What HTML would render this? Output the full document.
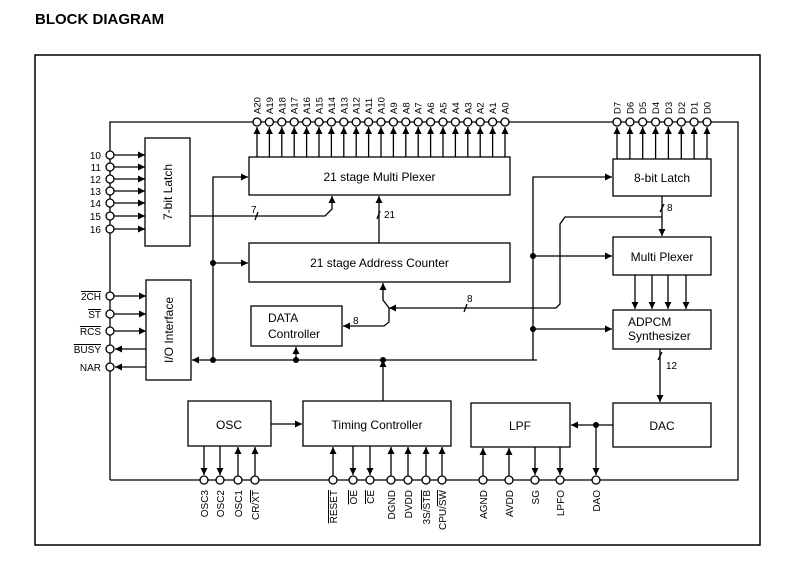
<!DOCTYPE html>
<html><head><meta charset="utf-8"><style>
html,body{margin:0;padding:0;background:#fff;}
svg{display:block;font-family:"Liberation Sans",Arial,sans-serif;}
.ov{text-decoration:overline;}
</style></head><body>
<svg width="785" height="575" viewBox="0 0 785 575" xmlns="http://www.w3.org/2000/svg">
<defs>
<marker id="a" markerWidth="8" markerHeight="8" refX="7" refY="4" orient="auto" markerUnits="userSpaceOnUse"><path d="M0,0.5 L7,4 L0,7.5 Z" fill="#000"/></marker>
</defs>
<text x="35" y="24" font-size="15" font-weight="bold">BLOCK DIAGRAM</text>
<rect x="35" y="55" width="725" height="490" fill="none" stroke="#000" stroke-width="1.5"/>
<g stroke="#000" stroke-width="1.3" fill="none">
<!-- wires -->
<polyline points="110,480 110,122 738,122 738,480 110,480"/>
<!-- address arrows -->
<g marker-end="url(#a)">
<line x1="257" y1="157" x2="257" y2="127"/><line x1="269.4" y1="157" x2="269.4" y2="127"/><line x1="281.8" y1="157" x2="281.8" y2="127"/><line x1="294.2" y1="157" x2="294.2" y2="127"/><line x1="306.6" y1="157" x2="306.6" y2="127"/><line x1="319" y1="157" x2="319" y2="127"/><line x1="331.4" y1="157" x2="331.4" y2="127"/><line x1="343.8" y1="157" x2="343.8" y2="127"/><line x1="356.2" y1="157" x2="356.2" y2="127"/><line x1="368.6" y1="157" x2="368.6" y2="127"/><line x1="381" y1="157" x2="381" y2="127"/><line x1="393.4" y1="157" x2="393.4" y2="127"/><line x1="405.8" y1="157" x2="405.8" y2="127"/><line x1="418.2" y1="157" x2="418.2" y2="127"/><line x1="430.6" y1="157" x2="430.6" y2="127"/><line x1="443" y1="157" x2="443" y2="127"/><line x1="455.4" y1="157" x2="455.4" y2="127"/><line x1="467.8" y1="157" x2="467.8" y2="127"/><line x1="480.2" y1="157" x2="480.2" y2="127"/><line x1="492.6" y1="157" x2="492.6" y2="127"/><line x1="505" y1="157" x2="505" y2="127"/>
<line x1="617" y1="159" x2="617" y2="127"/><line x1="629.9" y1="159" x2="629.9" y2="127"/><line x1="642.7" y1="159" x2="642.7" y2="127"/><line x1="655.6" y1="159" x2="655.6" y2="127"/><line x1="668.4" y1="159" x2="668.4" y2="127"/><line x1="681.3" y1="159" x2="681.3" y2="127"/><line x1="694.1" y1="159" x2="694.1" y2="127"/><line x1="707" y1="159" x2="707" y2="127"/>
<!-- 7 inputs -->
<line x1="114" y1="155" x2="145" y2="155"/><line x1="114" y1="167" x2="145" y2="167"/><line x1="114" y1="179" x2="145" y2="179"/><line x1="114" y1="191" x2="145" y2="191"/><line x1="114" y1="203" x2="145" y2="203"/><line x1="114" y1="216" x2="145" y2="216"/><line x1="114" y1="229" x2="145" y2="229"/>
<line x1="114" y1="296" x2="146" y2="296"/><line x1="114" y1="314" x2="146" y2="314"/><line x1="114" y1="331" x2="146" y2="331"/>
<line x1="146" y1="349" x2="115" y2="349"/><line x1="146" y1="367" x2="115" y2="367"/>
<polyline points="190,216 325,216 332,209 332,196"/>
<line x1="379" y1="243" x2="379" y2="196"/>
<polyline points="213,360 213,177 248,177"/>
<line x1="213" y1="263" x2="248" y2="263"/>
<polyline points="537,360 192,360"/>
<line x1="296" y1="360" x2="296" y2="347"/>
<line x1="383" y1="401" x2="383" y2="360"/>
<polyline points="533,360 533,177 612,177"/>
<line x1="533" y1="256" x2="612" y2="256"/>
<line x1="533" y1="329" x2="612" y2="329"/>
<line x1="662" y1="196" x2="662" y2="236"/>
<polyline points="662,217 565,217 560,224 560,304 556,308 389,308"/>
<polyline points="389,308 383,300 383,283"/>
<polyline points="389,308 389,322 384,326 343,326"/>
<line x1="635" y1="275" x2="635" y2="309"/><line x1="652" y1="275" x2="652" y2="309"/><line x1="668" y1="275" x2="668" y2="309"/><line x1="686" y1="275" x2="686" y2="309"/>
<line x1="660" y1="349" x2="660" y2="402"/>
<line x1="613" y1="425" x2="571" y2="425"/>
<line x1="271" y1="424" x2="302" y2="424"/>
<!-- bottom pins -->
<line x1="204" y1="446" x2="204" y2="475"/><line x1="220" y1="446" x2="220" y2="475"/>
<line x1="238" y1="476" x2="238" y2="447"/><line x1="255" y1="476" x2="255" y2="447"/>
<line x1="333" y1="476" x2="333" y2="447"/>
<line x1="353" y1="446" x2="353" y2="475"/><line x1="370" y1="446" x2="370" y2="475"/>
<line x1="391" y1="476" x2="391" y2="447"/><line x1="408" y1="476" x2="408" y2="447"/><line x1="426" y1="476" x2="426" y2="447"/><line x1="442" y1="476" x2="442" y2="447"/>
<line x1="483" y1="476" x2="483" y2="448"/><line x1="509" y1="476" x2="509" y2="448"/>
<line x1="535" y1="447" x2="535" y2="475"/><line x1="560" y1="447" x2="560" y2="475"/>
<line x1="596" y1="425" x2="596" y2="475"/>
</g>
<!-- tick marks -->
<line x1="255" y1="220" x2="258" y2="212"/><line x1="377" y1="219" x2="380" y2="211"/><line x1="464" y1="312" x2="467" y2="304"/><line x1="660" y1="212" x2="664" y2="204"/><line x1="658" y1="360" x2="662" y2="352"/>
<!-- boxes -->
<g fill="#fff">
<rect x="145" y="138" width="45" height="108"/>
<rect x="146" y="280" width="45" height="100"/>
<rect x="249" y="157" width="261" height="38"/>
<rect x="249" y="243" width="261" height="39"/>
<rect x="251" y="306" width="91" height="40"/>
<rect x="613" y="159" width="98" height="37"/>
<rect x="613" y="237" width="98" height="38"/>
<rect x="613" y="310" width="98" height="39"/>
<rect x="188" y="401" width="83" height="45"/>
<rect x="303" y="401" width="148" height="45"/>
<rect x="471" y="403" width="99" height="44"/>
<rect x="613" y="403" width="98" height="44"/>
</g>
</g>
<!-- dots -->
<g fill="#000">
<circle cx="213" cy="263" r="3"/><circle cx="213" cy="360" r="3"/><circle cx="296" cy="360" r="3"/><circle cx="383" cy="360" r="3"/>
<circle cx="533" cy="256" r="3"/><circle cx="533" cy="329" r="3"/><circle cx="596" cy="425" r="3"/>
</g>
<!-- pin circles -->
<g fill="#fff" stroke="#000" stroke-width="1.3">
<circle cx="257" cy="122" r="4"/><circle cx="269.4" cy="122" r="4"/><circle cx="281.8" cy="122" r="4"/><circle cx="294.2" cy="122" r="4"/><circle cx="306.6" cy="122" r="4"/><circle cx="319" cy="122" r="4"/><circle cx="331.4" cy="122" r="4"/><circle cx="343.8" cy="122" r="4"/><circle cx="356.2" cy="122" r="4"/><circle cx="368.6" cy="122" r="4"/><circle cx="381" cy="122" r="4"/><circle cx="393.4" cy="122" r="4"/><circle cx="405.8" cy="122" r="4"/><circle cx="418.2" cy="122" r="4"/><circle cx="430.6" cy="122" r="4"/><circle cx="443" cy="122" r="4"/><circle cx="455.4" cy="122" r="4"/><circle cx="467.8" cy="122" r="4"/><circle cx="480.2" cy="122" r="4"/><circle cx="492.6" cy="122" r="4"/><circle cx="505" cy="122" r="4"/>
<circle cx="617" cy="122" r="4"/><circle cx="629.9" cy="122" r="4"/><circle cx="642.7" cy="122" r="4"/><circle cx="655.6" cy="122" r="4"/><circle cx="668.4" cy="122" r="4"/><circle cx="681.3" cy="122" r="4"/><circle cx="694.1" cy="122" r="4"/><circle cx="707" cy="122" r="4"/>
<circle cx="110" cy="155" r="4"/><circle cx="110" cy="167" r="4"/><circle cx="110" cy="179" r="4"/><circle cx="110" cy="191" r="4"/><circle cx="110" cy="203" r="4"/><circle cx="110" cy="216" r="4"/><circle cx="110" cy="229" r="4"/>
<circle cx="110" cy="296" r="4"/><circle cx="110" cy="314" r="4"/><circle cx="110" cy="331" r="4"/><circle cx="110" cy="349" r="4"/><circle cx="110" cy="367" r="4"/>
<circle cx="204" cy="480" r="4"/><circle cx="220" cy="480" r="4"/><circle cx="238" cy="480" r="4"/><circle cx="255" cy="480" r="4"/>
<circle cx="333" cy="480" r="4"/><circle cx="353" cy="480" r="4"/><circle cx="370" cy="480" r="4"/><circle cx="391" cy="480" r="4"/><circle cx="408" cy="480" r="4"/><circle cx="426" cy="480" r="4"/><circle cx="442" cy="480" r="4"/>
<circle cx="483" cy="480" r="4"/><circle cx="509" cy="480" r="4"/><circle cx="535" cy="480" r="4"/><circle cx="560" cy="480" r="4"/><circle cx="596" cy="480" r="4"/>
</g>
<!-- box labels -->
<g font-size="12" text-anchor="middle">
<text x="379.5" y="181">21 stage Multi Plexer</text>
<text x="379.5" y="267">21 stage Address Counter</text>
<text x="662" y="182">8-bit Latch</text>
<text x="662" y="261">Multi Plexer</text>
<text x="229" y="429">OSC</text>
<text x="377" y="429">Timing Controller</text>
<text x="520" y="430">LPF</text>
<text x="662" y="430">DAC</text>
<text transform="translate(172,192) rotate(-90)">7-bit Latch</text>
<text transform="translate(173,330) rotate(-90)">I/O Interface</text>
</g>
<g font-size="12">
<text x="268" y="322">DATA</text><text x="268" y="338">Controller</text>
<text x="628" y="326">ADPCM</text><text x="628" y="340">Synthesizer</text>
</g>
<g font-size="10">
<text x="251" y="213">7</text><text x="384" y="218">21</text><text x="467" y="302">8</text><text x="353" y="324">8</text><text x="667" y="211">8</text><text x="666" y="369">12</text>
</g>
<g font-size="10" text-anchor="end">
<text x="101" y="159">10</text><text x="101" y="171">11</text><text x="101" y="183">12</text><text x="101" y="195">13</text><text x="101" y="207">14</text><text x="101" y="220">15</text><text x="101" y="233">16</text>
<text x="101" y="300" class="ov">2CH</text><text x="101" y="318" class="ov">ST</text><text x="101" y="335" class="ov">RCS</text><text x="101" y="353" class="ov">BUSY</text><text x="101" y="371">NAR</text>
</g>
<!-- top pin labels -->
<g font-size="9.5">
<text transform="translate(260.5,114) rotate(-90)">A20</text><text transform="translate(272.9,114) rotate(-90)">A19</text><text transform="translate(285.3,114) rotate(-90)">A18</text><text transform="translate(297.7,114) rotate(-90)">A17</text><text transform="translate(310.1,114) rotate(-90)">A16</text><text transform="translate(322.5,114) rotate(-90)">A15</text><text transform="translate(334.9,114) rotate(-90)">A14</text><text transform="translate(347.3,114) rotate(-90)">A13</text><text transform="translate(359.7,114) rotate(-90)">A12</text><text transform="translate(372.1,114) rotate(-90)">A11</text><text transform="translate(384.5,114) rotate(-90)">A10</text><text transform="translate(396.9,114) rotate(-90)">A9</text><text transform="translate(409.3,114) rotate(-90)">A8</text><text transform="translate(421.7,114) rotate(-90)">A7</text><text transform="translate(434.1,114) rotate(-90)">A6</text><text transform="translate(446.5,114) rotate(-90)">A5</text><text transform="translate(458.9,114) rotate(-90)">A4</text><text transform="translate(471.3,114) rotate(-90)">A3</text><text transform="translate(483.7,114) rotate(-90)">A2</text><text transform="translate(496.1,114) rotate(-90)">A1</text><text transform="translate(508.5,114) rotate(-90)">A0</text>
<text transform="translate(620.5,114) rotate(-90)">D7</text><text transform="translate(633.4,114) rotate(-90)">D6</text><text transform="translate(646.2,114) rotate(-90)">D5</text><text transform="translate(659.1,114) rotate(-90)">D4</text><text transform="translate(671.9,114) rotate(-90)">D3</text><text transform="translate(684.8,114) rotate(-90)">D2</text><text transform="translate(697.6,114) rotate(-90)">D1</text><text transform="translate(710.5,114) rotate(-90)">D0</text>
</g>
<!-- bottom pin labels -->
<g font-size="10" text-anchor="end">
<text transform="translate(208,490) rotate(-90)">OSC3</text><text transform="translate(224,490) rotate(-90)">OSC2</text><text transform="translate(242,490) rotate(-90)">OSC1</text><text transform="translate(259,490) rotate(-90)">CR/<tspan class="ov">XT</tspan></text>
<text transform="translate(337,490) rotate(-90)" class="ov">RESET</text><text transform="translate(357,490) rotate(-90)" class="ov">OE</text><text transform="translate(374,490) rotate(-90)" class="ov">CE</text>
<text transform="translate(395,490) rotate(-90)">DGND</text><text transform="translate(412,490) rotate(-90)">DVDD</text><text transform="translate(430,490) rotate(-90)">3S/<tspan class="ov">STB</tspan></text><text transform="translate(446,490) rotate(-90)">CPU/<tspan class="ov">SW</tspan></text>
<text transform="translate(487,490) rotate(-90)">AGND</text><text transform="translate(513,490) rotate(-90)">AVDD</text><text transform="translate(539,490) rotate(-90)">SG</text><text transform="translate(564,490) rotate(-90)">LPFO</text><text transform="translate(600,490) rotate(-90)">DAO</text>
</g>
</svg>
</body></html>
